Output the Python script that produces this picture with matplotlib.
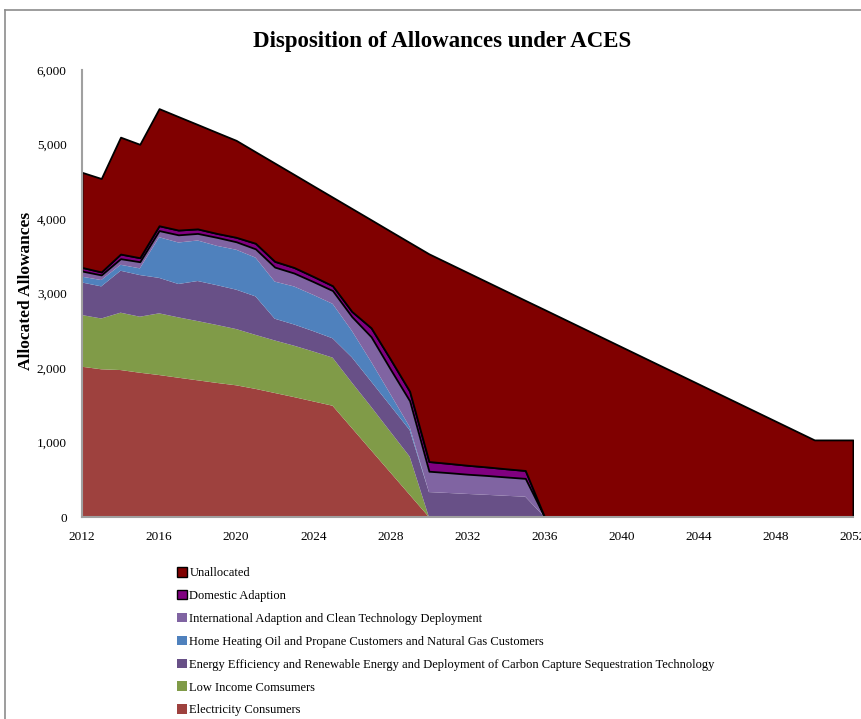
import numpy as np
import matplotlib.pyplot as plt
from matplotlib.patches import Patch
from matplotlib.lines import Line2D
from matplotlib.ticker import FuncFormatter

# allowances by year (millions)
years = list(range(2012, 2053))
cap = [4627, 4544, 5099, 5003, 5482, 5375, 5269, 5162, 5056, 4903, 4751, 4599, 4446, 4294,
       4142, 3990, 3837, 3685, 3533, 3408, 3283, 3158, 3033, 2908, 2784, 2659, 2534, 2409,
       2284, 2159, 2034, 1910, 1785, 1660, 1535, 1410, 1285, 1160, 1035, 1035, 1035]
electricity = [2017, 1983, 1973, 1937, 1906, 1870, 1835, 1800, 1768, 1720, 1665, 1610, 1552,
               1494, 1195, 896, 598, 299, 0] + [0] * 22
low_income = [694, 682, 770, 752, 828, 810, 795, 778, 755, 725, 705, 690, 670, 646, 610, 584,
              547, 513, 0] + [0] * 22
efficiency = [437, 431, 563, 559, 476, 448, 538, 534, 529, 517, 292, 285, 273, 259, 339, 340,
              350, 356, 335, 323, 310, 298, 285, 273, 0] + [0] * 16
heating = [78, 85, 80, 90, 546, 557, 544, 528, 536, 520, 498, 510, 487, 463, 356, 265, 155,
           44, 0] + [0] * 22
international = [76, 69, 82, 89, 89, 103, 95, 114, 107, 118, 195, 180, 178, 178, 190, 335,
                 335, 348, 280, 273, 265, 260, 253, 246, 0] + [0] * 16
domestic = [49, 40, 62, 54, 65, 64, 61, 53, 60, 75, 77, 75, 70, 65, 70, 120, 135, 128, 130,
            125, 120, 115, 110, 106, 0] + [0] * 16

allocated = np.array([electricity, low_income, efficiency, heating, international, domestic]).sum(axis=0)
unallocated = list(np.array(cap) - allocated)

names = ['Electricity Consumers', 'Low Income Comsumers',
         'Energy Efficiency and Renewable Energy and Deployment of Carbon Capture Sequestration Technology',
         'Home Heating Oil and Propane Customers and Natural Gas Customers',
         'International Adaption and Clean Technology Deployment',
         'Domestic Adaption', 'Unallocated']
series = [electricity, low_income, efficiency, heating, international, domestic, unallocated]
colors = ['#9e413e', '#809b48', '#685087', '#4f81bd', '#8064a2', '#800080', '#800000']
edges = [None, None, None, None, None, 'black', 'black']

serif = 'Liberation Serif'

fig = plt.figure(figsize=(8.62, 7.19), dpi=100)
ax = fig.add_axes([0.0951, 0.2809, 0.8944, 0.6217])

x = np.array(years)
bottom = np.zeros(len(years))
for vals, col, ec in zip(series, colors, edges):
    top = bottom + np.array(vals)
    if ec:
        ax.fill_between(x, bottom, top, facecolor=col, edgecolor=ec, linewidth=1.3, zorder=2)
    else:
        ax.fill_between(x, bottom, top, facecolor=col, edgecolor='none', linewidth=0, zorder=2)
    bottom = top

ax.set_xlim(2012, 2052)
ax.set_ylim(0, 6000)
ax.set_xticks(range(2012, 2053, 4))
ax.set_yticks(range(0, 6001, 1000))
ax.yaxis.set_major_formatter(FuncFormatter(lambda v, p: f'{int(v):,}'))
ax.tick_params(length=0, labelsize=9.5)
ax.tick_params(axis='y', pad=11)
ax.tick_params(axis='x', pad=10)
for lab in ax.get_xticklabels() + ax.get_yticklabels():
    lab.set_fontfamily(serif)
for s in ['top', 'right']:
    ax.spines[s].set_visible(False)
for s in ['left', 'bottom']:
    ax.spines[s].set_color('#a0a0a0')
    ax.spines[s].set_linewidth(1.5)
ax.set_ylabel('Allocated Allowances', fontsize=12.5, fontweight='bold', family=serif)
ax.yaxis.set_label_coords(-0.062, 0.505)

fig.text(0.513, 0.942, 'Disposition of Allowances under ACES', ha='center', va='center',
         fontsize=16.5, fontweight='bold', family=serif)

handles = []
for name, col, ec in reversed(list(zip(names, colors, edges))):
    handles.append(Patch(facecolor=col, edgecolor=ec if ec else col, linewidth=1.0 if ec else 0))
fig.legend(handles, list(reversed(names)), loc='upper left', bbox_to_anchor=(0.2053, 0.2114),
           frameon=False, prop={'family': serif, 'size': 9}, handlelength=0.8,
           handleheight=0.8, handletextpad=0.2, labelspacing=0.86, borderaxespad=0,
           borderpad=0)

# chart frame
fig.add_artist(Line2D([0.006, 0.006], [0, 0.986], color='#8c8c8c', linewidth=1.2))
fig.add_artist(Line2D([0.006, 1.0], [0.986, 0.986], color='#8c8c8c', linewidth=1.2))

fig.savefig('out.png', dpi=100)
